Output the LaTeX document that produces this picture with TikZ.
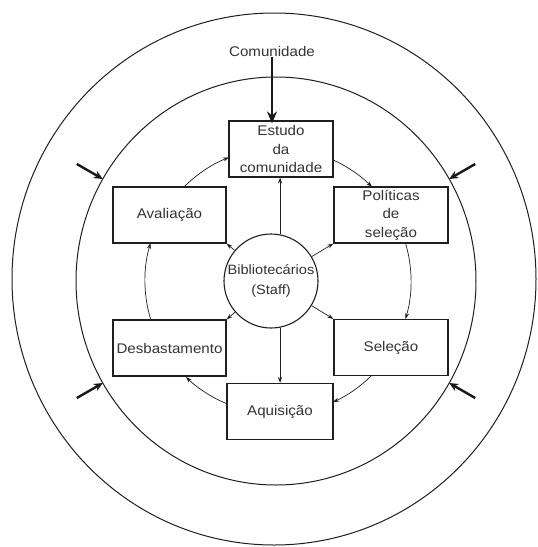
\documentclass[tikz,border=0pt]{standalone}
\usepackage{fontspec}
\setmainfont{Liberation Sans}[FakeStretch=1.08]
\usetikzlibrary{arrows.meta,calc}

\tikzset{
  ink/.style={draw=black!88},
  box/.style={ink, rectangle, line width=1.1pt, minimum height=56pt, inner sep=0pt,
              align=center, text=black!80, fill=white,
              font=\fontsize{14}{18.5}\selectfont},
  staffnode/.style={ink, circle, line width=1.1pt, minimum size=94pt, inner sep=0pt,
              align=center, text=black!80, font=\fontsize{13.5}{20}\selectfont},
  label/.style={text=black!80, font=\fontsize{14}{18}\selectfont, inner sep=1pt},
  ring/.style={ink, line width=1pt},
  cycle arrow/.style={ink, line width=0.7pt, -{Stealth[length=6pt,width=4pt]}},
  spoke/.style={ink, line width=0.7pt, -{Stealth[length=6pt,width=4pt]}},
  bigarrow/.style={draw=black!90, line width=2.2pt, -{Stealth[length=12pt,width=10pt]}},
  sidearrow/.style={draw=black!90, line width=2.4pt, -{Stealth[length=9pt,width=8pt]}},
}

\begin{document}
\begin{tikzpicture}[x=1pt,y=-1pt]
  \useasboundingbox (0,0) rectangle (538,547);
  \fill[white] (0,0) rectangle (538,547);

  % centres of the rings
  \coordinate (outerc) at (274,279);
  \coordinate (mid) at (276,281);
  \coordinate (cyc) at (278,281);

  % the two outer rings
  \draw[ring] (outerc) ellipse[x radius=262pt, y radius=266pt];
  \draw[ring] (mid) ellipse[x radius=200pt, y radius=204pt];

  % the six stages
  \node[box, minimum width=104pt] (estudo)    at (281,149)   {Estudo\\da\\comunidade};
  \node[box, minimum width=114pt] (politicas) at (391,215)   {Políticas\\de\\seleção};
  \node[box, minimum width=113pt] (avaliacao) at (169.5,215) {Avaliação};
  \node[box, minimum width=113pt] (desbast)   at (169.5,348) {Desbastamento};
  \node[box, minimum width=114pt] (selecao)   at (391,347.5) {Seleção};
  \node[box, minimum width=106pt] (aquisicao) at (280,411.5) {Aquisição};

  % staff at the hub
  \node[staffnode] (staff) at (271,281) {Bibliotecários\\(Staff)};

  % the community feeding in from outside
  \node[label] (comunidade) at (272,51) {Comunidade};
  \draw[bigarrow] (comunidade.south) -- ([yshift=-3pt]comunidade.south |- estudo.north);

  % pressures acting on the middle ring
  \coordinate (tipNE)  at ([shift={(30:200pt and 204pt)}]mid);
  \coordinate (tailNE) at ([shift={(30:230pt and 234pt)}]mid);
  \coordinate (tipNW)  at ([shift={(150:200pt and 204pt)}]mid);
  \coordinate (tailNW) at ([shift={(150:230pt and 234pt)}]mid);
  \coordinate (tipSW)  at ([shift={(210:200pt and 204pt)}]mid);
  \coordinate (tailSW) at ([shift={(210:230pt and 234pt)}]mid);
  \coordinate (tipSE)  at ([shift={(-30:200pt and 204pt)}]mid);
  \coordinate (tailSE) at ([shift={(-30:230pt and 234pt)}]mid);
  \draw[sidearrow] (tailNE) -- (tipNE);
  \draw[sidearrow] (tailNW) -- (tipNW);
  \draw[sidearrow] (tailSW) -- (tipSW);
  \draw[sidearrow] (tailSE) -- (tipSE);

  % the clockwise cycle between the stages
  \draw[cycle arrow] ([shift={(65.6:133pt)}]cyc)  arc[start angle=65.6,  end angle=45.0,  radius=133pt];
  \draw[cycle arrow] ([shift={(16.6:133pt)}]cyc)  arc[start angle=16.6,  end angle=-16.6, radius=133pt];
  \draw[cycle arrow] ([shift={(-45.6:133pt)}]cyc) arc[start angle=-45.6, end angle=-65.6, radius=133pt];
  \draw[cycle arrow] ([shift={(-112.6:133pt)}]cyc) arc[start angle=-112.6, end angle=-133.8, radius=133pt];
  \draw[cycle arrow] ([shift={(196.6:133pt)}]cyc) arc[start angle=196.6, end angle=163.4, radius=133pt];
  \draw[cycle arrow] ([shift={(135.0:133pt)}]cyc) arc[start angle=135.0, end angle=111.6, radius=133pt];

  % spokes from the staff to every stage
  \draw[spoke] (staff.79) -- (staff.79 |- estudo.south);
  \draw[spoke] (staff.-79) -- (staff.-79 |- aquisicao.north);
  \draw[spoke] (staff) -- (avaliacao.south east);
  \draw[spoke] (staff) -- (politicas.south west);
  \draw[spoke] (staff) -- (desbast.north east);
  \draw[spoke] (staff) -- (selecao.north west);
\end{tikzpicture}
\end{document}
